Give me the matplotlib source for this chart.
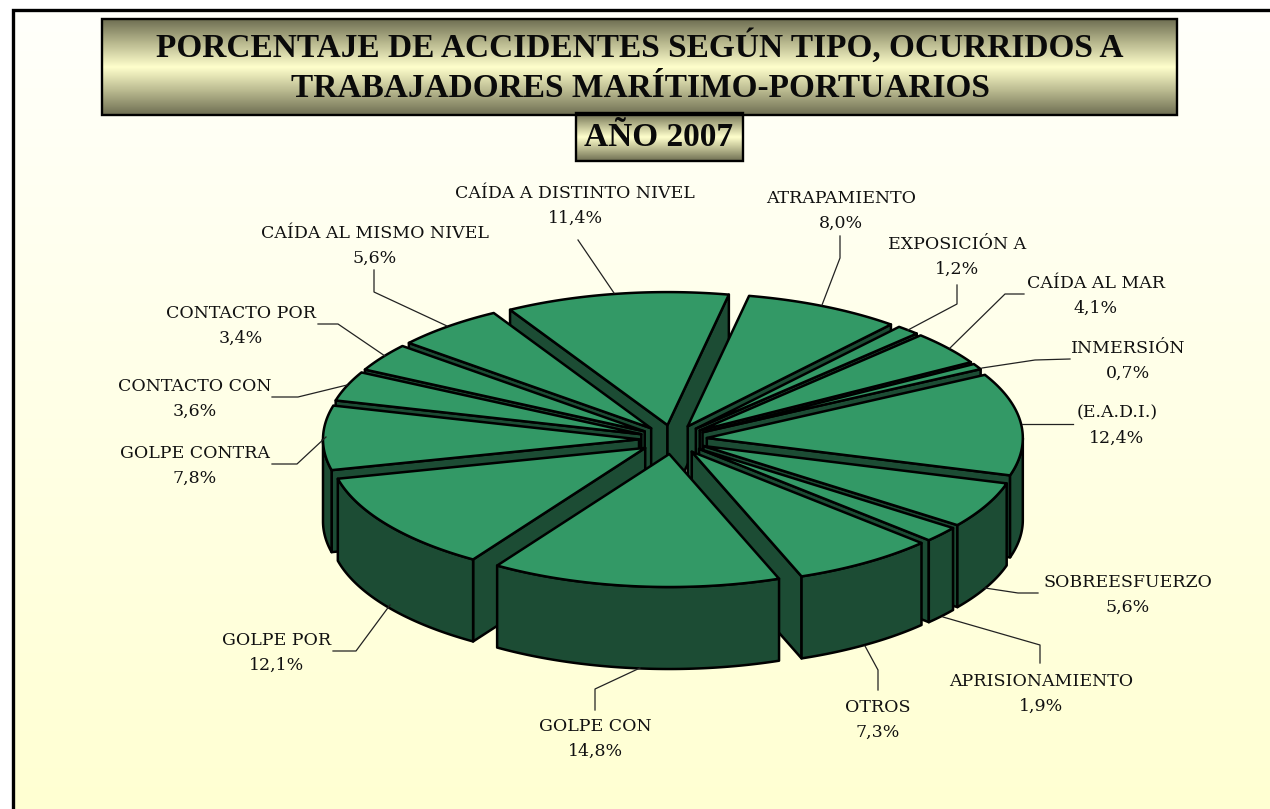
import numpy as np
import matplotlib
matplotlib.use("Agg")
import matplotlib.pyplot as plt
from matplotlib.colors import LinearSegmentedColormap
from matplotlib.patches import Polygon

# ---- data ----
categories = ["ATRAPAMIENTO", "EXPOSICIÓN A", "CAÍDA AL MAR", "INMERSIÓN", "(E.A.D.I.)",
              "SOBREESFUERZO", "APRISIONAMIENTO", "OTROS", "GOLPE CON", "GOLPE POR",
              "GOLPE CONTRA", "CONTACTO CON", "CONTACTO POR", "CAÍDA AL MISMO NIVEL",
              "CAÍDA A DISTINTO NIVEL"]
values = [8.0, 1.2, 4.1, 0.7, 12.4, 5.6, 1.9, 7.3, 14.8, 12.1, 7.8, 3.6, 3.4, 5.6, 11.4]
title_lines = ["PORCENTAJE DE ACCIDENTES SEGÚN TIPO, OCURRIDOS A",
               "TRABAJADORES MARÍTIMO-PORTUARIOS"]
year_label = "AÑO 2007"

# ---- layout (pixels) ----
W, H = 1270, 809
CX, CY, RX, RY = 673.0, 439.5, 316.0, 133.0
EX, EY = 34.0, 14.6
DEPTH = 82.0
START = 11.2
TOP, SIDE = "#339966", "#1C4C34"
label_pos = [(841, 210.5), (957, 256.5), (1096, 295.5), (1128, 360.5), (1117, 425.5),
             (1128, 594.5), (1041, 693.5), (878, 719.5), (595, 738.5), (277, 652.5),
             (195, 465.5), (195, 398.5), (241, 325.5), (375, 245.5), (575, 205.5)]
leaders = [[(840, 236), (840, 258), (822, 305)],
           [(957, 285), (957, 304), (908, 330)],
           [(1024, 294), (1005, 294), (950, 348)],
           [(1070, 359), (1035, 360), (982, 368)],
           [(1073, 424), (1022, 424)],
           [(1038, 593), (1018, 593), (985, 588)],
           [(1040, 663), (1040, 645), (943, 617)],
           [(878, 690), (878, 670), (865, 646)],
           [(595, 710), (595, 689), (640, 668)],
           [(333, 651), (356, 651), (390, 605)],
           [(272, 464), (297, 464), (326, 437)],
           [(272, 397), (298, 397), (347, 385)],
           [(318, 324), (338, 324), (385, 356)],
           [(374, 270), (374, 292), (447, 326)],
           [(578, 240), (614, 293)]]

fig = plt.figure(figsize=(W / 100, H / 100), dpi=100)
ax = fig.add_axes([0, 0, 1, 1])
ax.set_xlim(0, W)
ax.set_ylim(H, 0)
ax.axis("off")

# background
bg = LinearSegmentedColormap.from_list("bg", ["#FFFFFB", "#FFFFD2"])
ax.imshow(np.linspace(0, 1, 256)[:, None], cmap=bg, extent=(13, W, H, 10), aspect="auto", zorder=0)
ax.plot([12.5, 12.5, W], [H, 9.5, 9.5], color="black", lw=2.4, zorder=1, solid_capstyle="butt",
        solid_joinstyle="miter")
ax.set_xlim(0, W)
ax.set_ylim(H, 0)

# gradient boxes
box = LinearSegmentedColormap.from_list("box", ["#6E6E52", "#B9B98F", "#FFFFCC", "#B9B98F", "#6E6E52"])


def grad_box(x0, y0, x1, y1):
    ax.add_patch(Polygon([(x0 + 1, y0 + 1), (x1 + 1, y0 + 1), (x1 + 1, y1 + 1), (x0 + 1, y1 + 1)],
                         closed=True, fc="#909090", ec="none", zorder=19))
    ax.imshow(np.linspace(0, 1, 256)[:, None], cmap=box, extent=(x0, x1, y1, y0),
              aspect="auto", zorder=20)
    ax.add_patch(Polygon([(x0, y0), (x1, y0), (x1, y1), (x0, y1)], closed=True, fc="none",
                         ec="black", lw=1.7, zorder=21))
    ax.set_xlim(0, W)
    ax.set_ylim(H, 0)


grad_box(102, 19, 1177, 115)
grad_box(576, 113, 743, 161)
title_font = dict(family="Liberation Serif", weight="bold", color="#0A0A0A", ha="center",
                  va="center", zorder=22)
ax.text(640, 46, title_lines[0], fontsize=24, **title_font)
ax.text(640, 88, title_lines[1], fontsize=24, **title_font)
ax.text(659, 137, year_label, fontsize=24, **title_font)

# pie geometry from the values
vals = np.array(values)
edges = START + np.concatenate([[0], np.cumsum(vals)]) / vals.sum() * 360.0


def pt(theta_deg, ox, oy, r=1.0):
    t = np.radians(theta_deg)
    return ox + r * RX * np.sin(t), oy - r * RY * np.cos(t)


wedges = []
for i in range(len(vals)):
    a, b = edges[i], edges[i + 1]
    mid = np.radians((a + b) / 2)
    wedges.append((np.cos(mid), a, b, CX + EX * np.sin(mid), CY - EY * np.cos(mid)))

z = 5.0
for _, a, b, ox, oy in sorted(wedges, key=lambda w: -w[0]):
    ts = np.linspace(a, b, max(int(b - a) * 3, 6))
    xs, ys = pt(ts, ox, oy)
    style = dict(closed=True, lw=1.8, ec="black", joinstyle="round")
    # radial walls facing the viewer
    if np.sin(np.radians(a)) < 0:
        x, y = pt(a, ox, oy)
        ax.add_patch(Polygon([(ox, oy), (x, y), (x, y + DEPTH), (ox, oy + DEPTH)], fc=SIDE, zorder=z, **style))
    if np.sin(np.radians(b)) > 0:
        x, y = pt(b, ox, oy)
        ax.add_patch(Polygon([(ox, oy), (x, y), (x, y + DEPTH), (ox, oy + DEPTH)], fc=SIDE, zorder=z, **style))
    # outer wall (front half of the ellipse only)
    lo, hi = max(a, 90.0), min(b, 270.0)
    if hi > lo:
        tw = np.linspace(lo, hi, max(int(hi - lo) * 3, 6))
        xw, yw = pt(tw, ox, oy)
        poly = np.column_stack([np.r_[xw, xw[::-1]], np.r_[yw, (yw + DEPTH)[::-1]]])
        ax.add_patch(Polygon(poly, fc=SIDE, zorder=z, **style))
    # top
    top = np.column_stack([np.r_[ox, xs], np.r_[oy, ys]])
    ax.add_patch(Polygon(top, fc=TOP, zorder=z + 0.5, **style))
    z += 1

# labels
for name, v, (lx, ly), seg in zip(categories, values, label_pos, leaders):
    ax.plot(*zip(*seg), color="#222222", lw=0.9, zorder=30)
    txt = name + "\n" + f"{v:.1f}".replace(".", ",") + "%"
    ax.text(lx, ly, txt, family="DejaVu Serif", fontsize=12.5, color="#111111", ha="center",
            va="center", linespacing=1.6, zorder=31)

fig.savefig("out.png", dpi=100, facecolor="white")
